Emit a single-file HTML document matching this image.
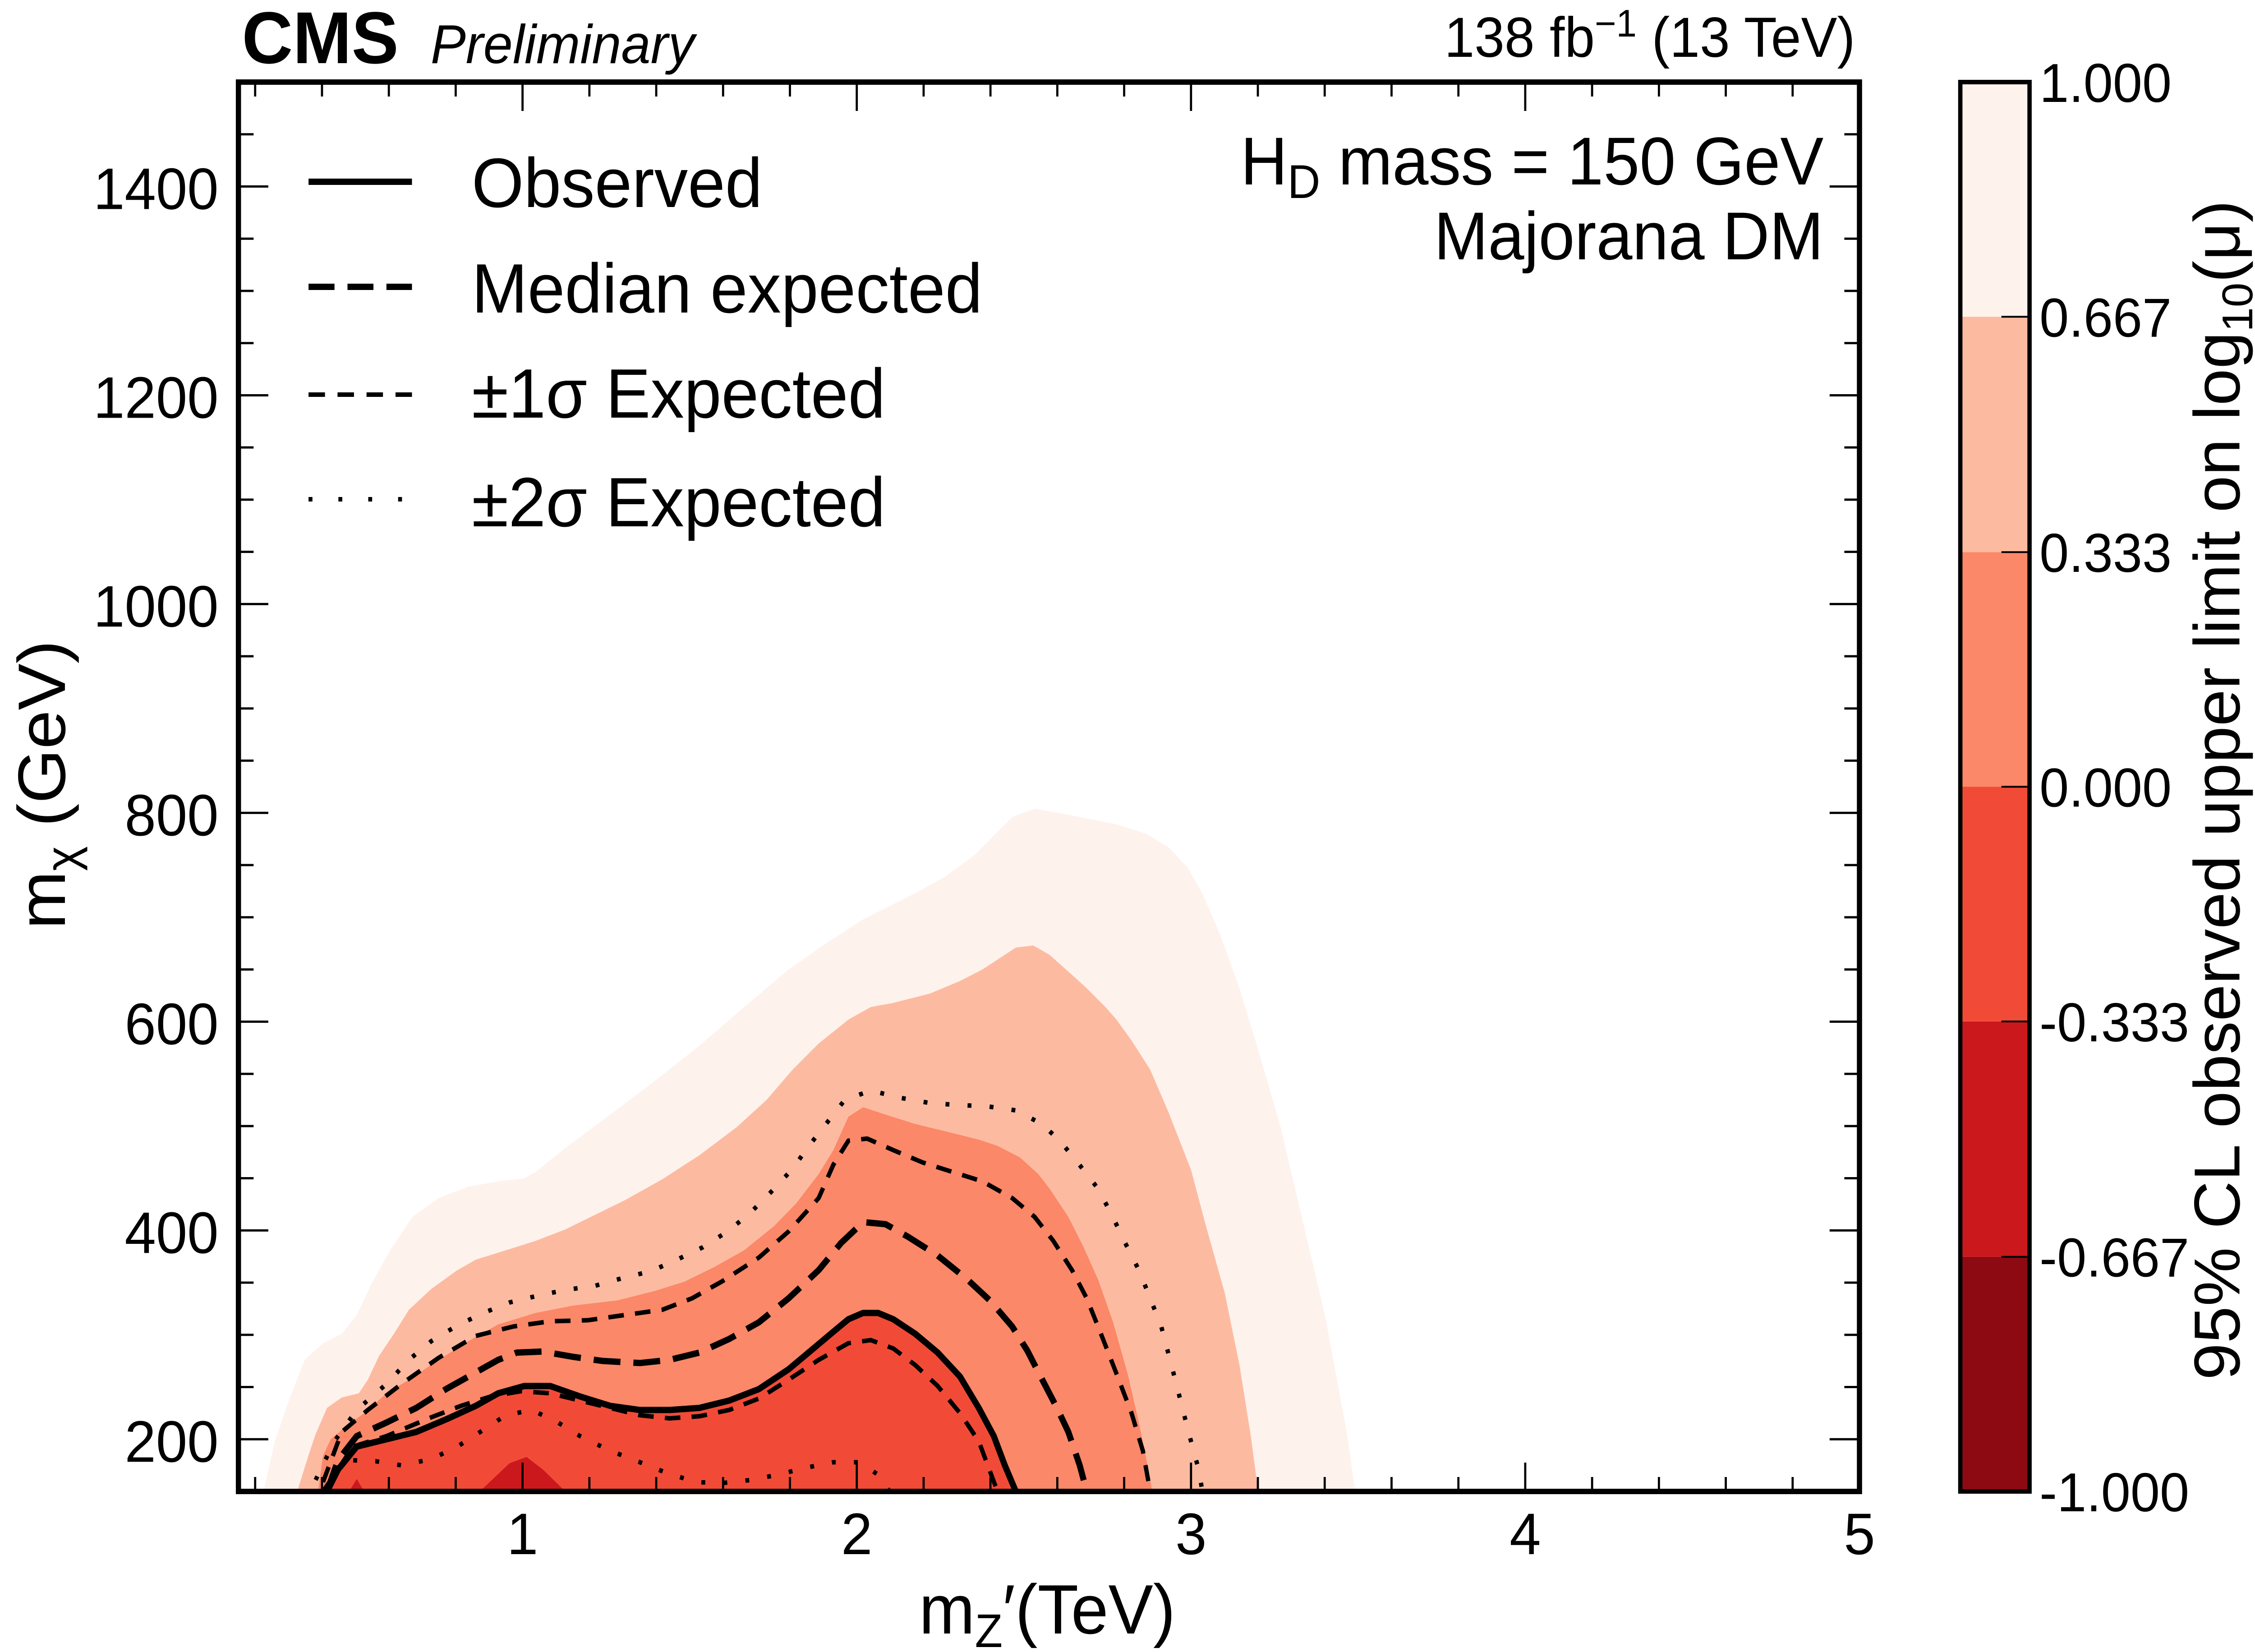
<!DOCTYPE html>
<html><head><meta charset="utf-8"><style>
html,body{margin:0;padding:0;background:#fff;overflow:hidden;}
svg{display:block;width:100vw;height:100vh;}
text{font-family:"Liberation Sans",sans-serif;fill:#000;}
</style></head><body>
<svg id="chart" viewBox="0 0 5211 3663" preserveAspectRatio="none" xmlns="http://www.w3.org/2000/svg">
<defs><clipPath id="plotclip"><rect x="551" y="182" width="3746" height="3125"/></clipPath></defs>
<g id="regions" clip-path="url(#plotclip)"></g>
<g id="lines" clip-path="url(#plotclip)"></g>
<g id="axes"></g>
<rect x="551" y="182" width="3746" height="3125" fill="none" stroke="#000" stroke-width="12"/>

<text x="559" y="140" font-size="163" font-weight="bold">CMS</text>
<text x="995" y="140" font-size="122" font-style="italic">Preliminary</text>
<text x="4287" y="126" font-size="125" text-anchor="end">138 fb<tspan dy="-45" font-size="85">−1</tspan><tspan dy="45"> (13 TeV)</tspan></text>

<g>
<line x1="713" y1="403" x2="952" y2="403" stroke="#000" stroke-width="14"/>
<text x="1090" y="459" font-size="155">Observed</text>
<line x1="713" y1="636" x2="952" y2="636" stroke="#000" stroke-width="14" stroke-dasharray="60 30"/>
<text x="1090" y="693" font-size="155">Median expected</text>
<line x1="713" y1="875" x2="952" y2="875" stroke="#000" stroke-width="10" stroke-dasharray="38 29"/>
<text x="1090" y="926" font-size="155">±1σ Expected</text>
<line x1="713" y1="1107" x2="952" y2="1107" stroke="#000" stroke-width="10" stroke-dasharray="9 60"/>
<text x="1090" y="1167" font-size="155">±2σ Expected</text>
</g>

<text x="4214" y="409" font-size="150" text-anchor="end">H<tspan dy="30" font-size="105">D</tspan><tspan dy="-30"> mass = 150 GeV</tspan></text>
<text x="4214" y="575" font-size="150" text-anchor="end">Majorana DM</text>

<text x="2420" y="3622" font-size="155" text-anchor="middle">m<tspan dy="30" font-size="105">Z</tspan><tspan dy="-30">′(TeV)</tspan></text>
<text transform="translate(150,1740) rotate(-90)" font-size="155" text-anchor="middle">m<tspan dy="30" font-size="105">χ</tspan><tspan dy="-30"> (GeV)</tspan></text>

<g id="cbar"></g>
<text transform="translate(5175,1752) rotate(-90)" font-size="150" text-anchor="middle" textLength="2616" lengthAdjust="spacingAndGlyphs">95% CL observed upper limit on log<tspan dy="30" font-size="100">10</tspan><tspan dy="-30">(μ)</tspan></text>
</svg>
<script>
const xTicks = [1,2,3,4,5];
const yTicks = [200,400,600,800,1000,1200,1400];
const cbLevels = [-1.0,-0.667,-0.333,0.0,0.333,0.667,1.0];
const cbLabels = ["-1.000","-0.667","-0.333","0.000","0.333","0.667","1.000"];
const cbColors = ["#8e0a12","#cb181d","#f14b37","#fb8868","#fcbba1","#fef2ed"];

const reg1X=[0.225,0.259,0.303,0.348,0.403,0.459,0.504,0.548,0.604,0.671,0.749,0.838,0.927,1.005,1.039,1.128,1.262,1.395,1.529,1.663,1.796,1.908,2.019,2.175,2.265,2.354,2.465,2.532,2.621,2.777,2.866,2.933,2.989,3.034,3.089,3.145,3.201,3.268,3.335,3.402,3.468,3.491];
const reg1Y=[150,198,239,276,292,301,319,349,381,413,431,442,447,450,456,479,511,543,577,614,650,675,698,723,739,760,796,804,799,789,780,767,748,723,682,632,573,499,408,317,203,150];
const reg2X=[0.326,0.359,0.381,0.415,0.459,0.510,0.537,0.571,0.615,0.660,0.727,0.805,0.860,0.950,1.039,1.128,1.217,1.306,1.418,1.529,1.641,1.730,1.808,1.886,1.975,2.042,2.109,2.220,2.309,2.376,2.476,2.528,2.577,2.633,2.688,2.744,2.777,2.822,2.878,2.933,3.000,3.045,3.101,3.145,3.179,3.201];
const reg2Y=[150,184,205,230,240,244,257,280,301,324,344,362,372,381,390,401,415,429,449,472,499,525,554,579,602,614,618,627,639,650,671,673,664,648,632,614,602,582,554,513,458,404,340,271,203,150];
const reg3X=[0.388,0.403,0.426,0.470,0.526,0.593,0.660,0.749,0.838,0.927,1.039,1.150,1.284,1.395,1.485,1.574,1.663,1.752,1.819,1.886,1.930,1.975,2.019,2.086,2.175,2.265,2.365,2.421,2.488,2.543,2.577,2.633,2.677,2.722,2.767,2.811,2.844,2.867,2.884];
const reg3Y=[150,184,200,212,225,244,257,276,294,310,321,328,333,342,351,365,381,404,426,454,477,509,518,511,502,495,487,481,470,454,440,413,385,353,312,262,216,180,150];
const obsX=[0.415,0.448,0.504,0.593,0.682,0.771,0.860,0.927,1.005,1.083,1.172,1.262,1.351,1.440,1.529,1.618,1.707,1.796,1.863,1.930,1.975,2.019,2.064,2.109,2.175,2.242,2.309,2.365,2.410,2.443,2.476];
const obsY=[150,171,193,200,207,219,232,244,251,251,241,232,228,228,230,237,248,267,285,303,315,321,321,315,301,283,260,230,203,175,150];
const reg5aX=[0.481,0.504,0.526];
const reg5aY=[150,162,150];
const reg5bX=[0.872,0.961,1.012,1.061,1.128];
const reg5bY=[150,177,183,171,150];
const medX=[0.415,0.448,0.504,0.593,0.682,0.771,0.860,0.927,0.983,1.061,1.150,1.239,1.351,1.440,1.529,1.618,1.707,1.796,1.886,1.953,2.019,2.086,2.153,2.242,2.331,2.398,2.465,2.510,2.555,2.599,2.633,2.667,2.688];
const medY=[150,180,203,216,230,248,264,276,283,284,279,275,273,276,283,296,312,335,362,388,408,406,394,376,353,333,308,285,257,230,207,175,150];
const up1X=[0.403,0.459,0.537,0.638,0.749,0.860,0.972,1.083,1.195,1.306,1.418,1.507,1.596,1.707,1.796,1.886,1.930,1.975,2.031,2.109,2.198,2.287,2.376,2.465,2.532,2.588,2.644,2.688,2.733,2.778,2.822,2.856,2.878];
const up1Y=[159,207,228,253,278,299,308,313,314,319,324,335,351,374,399,431,463,486,488,477,465,456,447,431,413,390,362,335,299,262,225,189,150];
const dn1X=[0.403,0.437,0.493,0.593,0.727,0.816,0.905,0.994,1.083,1.172,1.262,1.351,1.440,1.529,1.618,1.707,1.796,1.886,1.975,2.042,2.109,2.175,2.242,2.309,2.365,2.421];
const dn1Y=[150,166,193,203,221,232,241,246,244,237,230,223,220,222,228,239,257,276,292,295,287,271,251,225,198,150];
const up2X=[0.381,0.437,0.504,0.593,0.660,0.727,0.805,0.883,0.961,1.039,1.128,1.217,1.295,1.384,1.462,1.540,1.618,1.685,1.741,1.808,1.852,1.908,1.964,2.042,2.131,2.220,2.309,2.387,2.476,2.554,2.610,2.666,2.722,2.766,2.800,2.844,2.878,2.911,2.934,2.956,2.978,3.000,3.023,3.034];
const up2Y=[161,198,228,253,276,294,309,321,331,337,343,347,354,361,372,384,400,418,436,459,479,502,525,534,527,522,520,519,515,502,485,463,440,413,390,362,335,308,280,253,225,198,171,150];
const dn2X=[0.403,0.437,0.481,0.560,0.638,0.727,0.805,0.883,0.950,1.028,1.106,1.172,1.262,1.351,1.429,1.518,1.596,1.685,1.763,1.852,1.930,2.008,2.064,2.098];
const dn2Y=[150,166,180,179,175,181,193,209,223,228,216,203,189,178,168,159,158,161,166,173,178,178,166,150];

const PX0=551, PX1=4297, PY0=3307, PY1=182;
const XMIN=0.15, XMAX=5, YMIN=150, YMAX=1500;
function X(t){return PX0+(t-XMIN)/(XMAX-XMIN)*(PX1-PX0);}
function Y(g){return PY0-(g-YMIN)/(YMAX-YMIN)*(PY0-PY1);}
const CB_TOP=182, CB_BOT=3307, CB_L=4530, CB_R=4690;
function CY(v){return CB_BOT-(v-cbLevels[0])/(cbLevels[cbLevels.length-1]-cbLevels[0])*(CB_BOT-CB_TOP);}
const NS="http://www.w3.org/2000/svg";
function mk(tag,attrs,parent){const e=document.createElementNS(NS,tag);for(const k in attrs)e.setAttribute(k,attrs[k]);parent.appendChild(e);return e;}
function pathD(xs,ys,close){let d="";for(let i=0;i<xs.length;i++)d+=(i?"L":"M")+X(xs[i]).toFixed(1)+","+Y(ys[i]).toFixed(1);return d+(close?"Z":"");}

const regions=document.getElementById("regions");
const fills=[[reg1X,reg1Y,cbColors[5],"region-0667-1000"],[reg2X,reg2Y,cbColors[4],"region-0333-0667"],[reg3X,reg3Y,cbColors[3],"region-0000-0333"],[obsX,obsY,cbColors[2],"region-m0333-0000"],[reg5aX,reg5aY,cbColors[1],"region-m0667-m0333-a"],[reg5bX,reg5bY,cbColors[1],"region-m0667-m0333-b"]];
fills.forEach(f=>{
  const p=mk("path",{d:pathD(f[0],f[1],true),fill:f[2]},regions);
  
  
});

const lines=document.getElementById("lines");
const lineDefs=[
 [up2X,up2Y,10,"9 42","plus-2sigma-line"],
 [dn2X,dn2Y,10,"9 42","minus-2sigma-line"],
 [up1X,up1Y,10,"36 26","plus-1sigma-line"],
 [dn1X,dn1Y,10,"36 26","minus-1sigma-line"],
 [medX,medY,14,"62 30","median-expected-line"],
 [obsX,obsY,14,"none","observed-line"]];
lineDefs.forEach(l=>{
  const a={d:pathD(l[0],l[1],false),fill:"none",stroke:"#000","stroke-width":l[2],"stroke-linejoin":"round"};
  if(l[3]!=="none")a["stroke-dasharray"]=l[3];
  const p=mk("path",a,lines);
  
  
});

const axes=document.getElementById("axes");
for(let k=1;k<=25;k++){
  const t=k*0.2; if(t<XMIN||t>XMAX+1e-9)continue;
  const major=Math.abs(t-Math.round(t))<1e-6;
  const len=major?64:32, x=X(t);
  const b=mk("line",{x1:x,y1:PY0,x2:x,y2:PY0-len,stroke:"#000","stroke-width":5},axes);
  
  
  const tp=mk("line",{x1:x,y1:PY1,x2:x,y2:PY1+len,stroke:"#000","stroke-width":5},axes);
  
  
}
xTicks.forEach(t=>{
  const e=mk("text",{x:X(t),y:3446,"font-size":130,"text-anchor":"middle"},axes);
  e.textContent=String(t);
  
  
});
for(let g=150;g<=1500;g+=50){
  const major=g%200===0;
  const len=major?69:35, y=Y(g);
  const l=mk("line",{x1:PX0,y1:y,x2:PX0+len,y2:y,stroke:"#000","stroke-width":5},axes);
  
  
  const r=mk("line",{x1:PX1,y1:y,x2:PX1-len,y2:y,stroke:"#000","stroke-width":5},axes);
  
  
}
yTicks.forEach(g=>{
  const e=mk("text",{x:505,y:Y(g)+50,"font-size":130,"text-anchor":"end"},axes);
  e.textContent=String(g);
  
  
});

const cbar=document.getElementById("cbar");
for(let i=0;i<cbColors.length;i++){
  const y1=CY(cbLevels[i+1]), y0=CY(cbLevels[i]);
  const r=mk("rect",{x:CB_L,y:y1,width:CB_R-CB_L,height:y0-y1,fill:cbColors[i]},cbar);
  
  
}
cbLevels.forEach((v,i)=>{
  const y=CY(v);
  if(i>0&&i<cbLevels.length-1){
    const t=mk("line",{x1:CB_R-65,y1:y,x2:CB_R,y2:y,stroke:"#000","stroke-width":4},cbar);
    
    
  }
  const e=mk("text",{x:4713,y:y+44,"font-size":122},cbar);
  e.textContent=cbLabels[i];
  
  
});
const fr=mk("rect",{x:CB_L,y:CB_TOP,width:CB_R-CB_L,height:CB_BOT-CB_TOP,fill:"none",stroke:"#000","stroke-width":10},cbar);


</script>
</body></html>
